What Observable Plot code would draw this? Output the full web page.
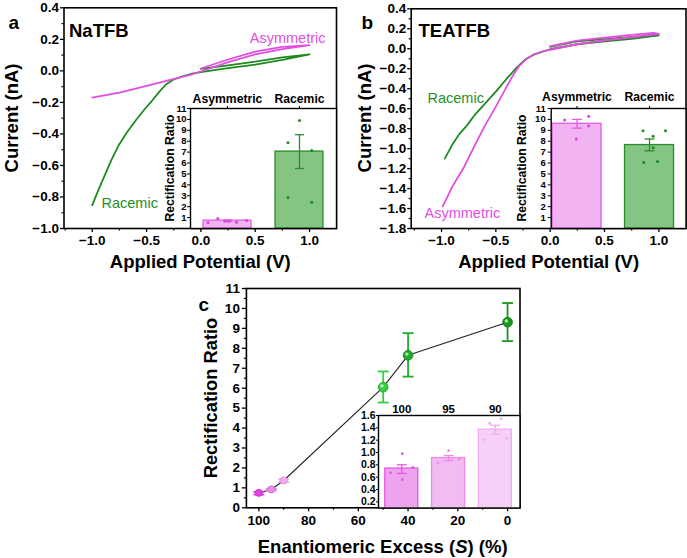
<!DOCTYPE html>
<html>
<head>
<meta charset="utf-8">
<script src="https://cdn.jsdelivr.net/npm/d3@7"></script>
<script src="https://cdn.jsdelivr.net/npm/@observablehq/plot@0.6"></script>
<style>
  body { margin: 0; background: #fff; }
  #fig { position: relative; width: 687px; height: 558px; overflow: hidden; background: #fff;
         font-family: "Liberation Sans", Arial, Helvetica, sans-serif; }
  #fig svg { position: absolute; }
  .htxt { position: absolute; font-weight: bold; white-space: nowrap; color: #000; line-height: 1; }
</style>
</head>
<body>
<div id="fig"></div>
<script>
// ---- Panel a: NaTFB I–V sweeps (V, nA) ----
const aRacV = [-1.0, -0.94, -0.88, -0.82, -0.755, -0.68, -0.60, -0.52, -0.45, -0.38, -0.32, -0.25, -0.17, -0.08, 0.0, 0.25, 0.5, 0.75, 1.0, 0.75, 0.5, 0.25, 0.0];
const aRacI = [-0.852, -0.75, -0.655, -0.56, -0.47, -0.39, -0.315, -0.245, -0.19, -0.13, -0.085, -0.055, -0.035, -0.018, -0.008, 0.018, 0.040, 0.070, 0.105, 0.085, 0.058, 0.035, 0.012];
const aAsymV = [-1.0, -0.75, -0.5, -0.3, -0.1, 0.0, 0.25, 0.5, 0.75, 1.0, 0.75, 0.5, 0.25, 0.0];
const aAsymI = [-0.170, -0.138, -0.095, -0.060, -0.025, -0.004, 0.055, 0.105, 0.138, 0.163, 0.152, 0.122, 0.072, 0.015];

// ---- Panel b: TEATFB I–V sweeps (V, nA) ----
const bRacV = [-0.97, -0.90, -0.84, -0.76, -0.70, -0.60, -0.50, -0.40, -0.30, -0.22, -0.15, -0.07, 0.0, 0.25, 0.5, 0.75, 1.0, 0.75, 0.5, 0.25, 0.0];
const bRacI = [-1.10, -0.96, -0.86, -0.76, -0.67, -0.55, -0.43, -0.30, -0.18, -0.10, -0.06, -0.03, -0.005, 0.045, 0.075, 0.100, 0.135, 0.118, 0.097, 0.075, 0.020];
const bAsymV = [-0.99, -0.90, -0.80, -0.70, -0.60, -0.50, -0.40, -0.35, -0.29, -0.22, -0.15, -0.08, 0.0, 0.25, 0.5, 0.75, 1.0, 0.95, 0.75, 0.5, 0.25, 0.0];
const bAsymI = [-1.58, -1.38, -1.20, -0.98, -0.77, -0.58, -0.38, -0.28, -0.18, -0.105, -0.055, -0.03, -0.01, 0.045, 0.085, 0.115, 0.148, 0.158, 0.138, 0.112, 0.082, 0.025];

// ---- Rectification ratio insets (a, b) ----
const groupNames = ["Asymmetric", "Racemic"];
const aRRMean = [0.72, 7.05];
const aRRLo = [0.67, 5.5];
const aRRHi = [0.77, 8.6];
const aPtGroup = [0, 0, 0, 0, 0, 0, 1, 1, 1, 1, 1];
const aPtOffset = [-0.27, -0.135, -0.03, 0.02, 0.125, 0.265, -0.16, 0.0, 0.17, -0.16, 0.17];
const aPtValue = [0.55, 0.91, 0.67, 0.67, 0.58, 0.73, 7.85, 9.9, 7.15, 2.85, 2.4];

const bRRMean = [9.6, 7.65];
const bRRLo = [9.2, 7.12];
const bRRHi = [10.0, 8.2];
const bPtGroup = [0, 0, 0, 0, 1, 1, 1, 1, 1, 1];
const bPtOffset = [-0.17, 0.16, 0.16, -0.01, -0.09, 0.22, 0.05, 0.05, -0.08, 0.11];
const bPtValue = [9.95, 10.3, 9.4, 8.2, 8.95, 8.95, 8.45, 7.4, 6.05, 6.15];

// ---- Panel c: rectification ratio vs enantiomeric excess ----
const cEE = [100, 95, 90, 50, 40, 0];
const cRR = [0.75, 0.92, 1.37, 6.05, 7.65, 9.31];
const cLo = [0.66, 0.87, 1.30, 5.28, 6.58, 8.36];
const cHi = [0.80, 0.95, 1.44, 6.84, 8.76, 10.27];

// inset c: high-ee bars
const eeNames = ["100", "95", "90"];
const cInMean = [0.74, 0.91, 1.37];
const cInLo = [0.66, 0.87, 1.30];
const cInHi = [0.80, 0.95, 1.44];
const cPtGroup = [0, 0, 0, 0, 1, 1, 1, 2, 2, 2, 2];
const cPtOffset = [-0.24, 0.01, 0.01, 0.235, -0.23, 0.0, 0.23, -0.23, -0.12, 0.126, 0.24];
const cPtValue = [0.67, 0.98, 0.56, 0.76, 0.83, 1.03, 0.89, 1.21, 1.47, 1.55, 1.23];

// ---- tick lists ----
const aYTicks = [-1.0, -0.8, -0.6, -0.4, -0.2, 0.0, 0.2, 0.4];
const aYMinor = [-0.9, -0.7, -0.5, -0.3, -0.1, 0.1, 0.3];
const bYTicks = [-1.8, -1.6, -1.4, -1.2, -1.0, -0.8, -0.6, -0.4, -0.2, 0.0, 0.2, 0.4];
const bYMinor = [-1.7, -1.5, -1.3, -1.1, -0.9, -0.7, -0.5, -0.3, -0.1, 0.1, 0.3];
const vTicks = [-1.0, -0.5, 0.0, 0.5, 1.0];
const vMinor = [-1.25, -0.75, -0.25, 0.25, 0.75];
const rrTicks = [1, 2, 3, 4, 5, 6, 7, 8, 9, 10, 11];
const cYTicks = [0, 1, 2, 3, 4, 5, 6, 7, 8, 9, 10, 11];
const cYMinor = [0.5, 1.5, 2.5, 3.5, 4.5, 5.5, 6.5, 7.5, 8.5, 9.5, 10.5];
const cXTicks = [100, 80, 60, 40, 20, 0];
const cXMinor = [90, 70, 50, 30, 10];
const cInYTicks = [0.2, 0.4, 0.6, 0.8, 1.0, 1.2, 1.4, 1.6];

// ---- colours ----
const magenta = "#e14ee1";
const green = "#1e8b1e";
const pinkFill = "#f1b3f1", pinkStroke = "#e35ce3", pinkDot = "#e03fe0";
const greenFill = "#84c584", greenStroke = "#2a8c2a", greenDot = "#1b8a1b";
const cMarker = ["#e040e0", "#e888e8", "#f0acf0", "#33d043", "#20ae28", "#18991e"];
const cMarkerEdge = ["#c030c0", "#d070d0", "#e090e0", "#1fa82c", "#158a1c", "#0f7a14"];
const cInFill = ["#eea3ee", "#f2bbf2", "#f6d0f6"];
const cInStroke = ["#e457e4", "#ec8aec", "#f0acf0"];

const font = '"Liberation Sans", Arial, Helvetica, sans-serif';
const styleBase = () => ({ background: "transparent", overflow: "visible", fontFamily: font, fontWeight: "bold", color: "black" });

const zip = (keys, ...cols) => cols[0].map((_, j) => Object.fromEntries(keys.map((k, n) => [k, cols[n][j]])));
// horizontal cap for error bars
const capSymbol = { draw(ctx, size) { const r = Math.sqrt(size / Math.PI); ctx.moveTo(-r, 0); ctx.lineTo(r, 0); } };

const fig = document.getElementById("fig");
function place(node, left, top) {
  node.style.position = "absolute";
  node.style.left = left + "px";
  node.style.top = top + "px";
  node.style.maxWidth = "none";
  fig.append(node);
}
// text centred on (cx, cy), optionally turned to read bottom-to-top
function label(html, cx, cy, size, vertical = false) {
  const el = document.createElement("div");
  el.className = "htxt";
  el.style.left = cx + "px";
  el.style.top = cy + "px";
  el.style.fontSize = size + "px";
  el.style.transform = vertical ? "translate(-50%, -50%) rotate(-90deg)" : "translate(-50%, -50%)";
  el.innerHTML = html;
  fig.append(el);
}

// ---------- panel a ----------
const aRac = zip(["v", "i"], aRacV, aRacI);
const aAsym = zip(["v", "i"], aAsymV, aAsymI);
place(Plot.plot({
  width: 340, height: 290,
  marginLeft: 63.5, marginRight: 4, marginTop: 7.3, marginBottom: 62,
  x: { domain: [-1.26, 1.248], label: null },
  y: { domain: [-1.0, 0.4], label: null },
  style: styleBase(),
  marks: [
    Plot.axisY({ ticks: aYTicks, tickFormat: ".1f", tickSize: 3.5, tickPadding: 1.5, fontSize: 13.5, fontWeight: "bold", label: null, strokeWidth: 1.3 }),
    Plot.axisY({ ticks: aYMinor, tickSize: 2, fill: "none", label: null, strokeWidth: 1.2 }),
    Plot.axisX({ ticks: vTicks, tickFormat: ".1f", tickSize: 4, tickPadding: 3, fontSize: 13.5, fontWeight: "bold", label: null, strokeWidth: 1.3 }),
    Plot.axisX({ ticks: vMinor, tickSize: 2.5, fill: "none", label: null, strokeWidth: 1.2 }),
    Plot.line(aRac, { x: "v", y: "i", stroke: green, strokeWidth: 1.8 }),
    Plot.line(aAsym, { x: "v", y: "i", stroke: magenta, strokeWidth: 1.8 }),
    Plot.frame({ stroke: "black", strokeWidth: 1.6 }),
    Plot.text(["NaTFB"], { frameAnchor: "top-left", dx: 5, dy: 16, textAnchor: "start", fontSize: 18.5, fontWeight: "bold" }),
    Plot.text(["Asymmetric"], { frameAnchor: "top-right", dx: -11, dy: 25, textAnchor: "end", fontSize: 14.5, fontWeight: "normal", fill: magenta }),
    Plot.text(["Racemic"], { frameAnchor: "bottom-left", dx: 37.5, dy: -21, textAnchor: "start", fontSize: 14.5, fontWeight: "normal", fill: "#24901f" }),
    Plot.text(["Applied Potential (V)"], { frameAnchor: "bottom", dy: 39, fontSize: 18.5, fontWeight: "bold" }),
    Plot.text(["a"], { frameAnchor: "top-left", dx: -55.5, dy: 8, fontSize: 19, fontWeight: "bold" })
  ]
}), 0, 0);
label("Current (nA)", 12, 117.6, 18.5, true);

// inset bar chart shared by panels a and b
function rrInset({ mean, lo, hi, ptGroup, ptOffset, ptValue, width, marginLeft, marginRight, xDomain, halfWidth, tickFontSize, tickPadding, topPadding, capR }) {
  const bars = zip(["k", "mean", "lo", "hi"], [0, 1], mean, lo, hi);
  const pts = zip(["k", "off", "value"], ptGroup, ptOffset, ptValue);
  const fills = [pinkFill, greenFill], strokes = [pinkStroke, greenStroke], dots = [pinkDot, greenDot];
  return Plot.plot({
    width, height: 150,
    marginLeft, marginRight, marginTop: 28, marginBottom: 2,
    x: { domain: xDomain, label: null },
    y: { domain: [0, 11], label: null },
    color: { type: "identity" },
    style: styleBase(),
    marks: [
      Plot.frame({ fill: "white", stroke: "none" }),
      Plot.rectY(bars, { x1: d => d.k - halfWidth, x2: d => d.k + halfWidth, y: "mean", fill: d => fills[d.k], stroke: d => strokes[d.k], strokeWidth: 1.3 }),
      Plot.ruleX(bars, { x: "k", y1: "lo", y2: "hi", stroke: d => strokes[d.k], strokeWidth: 1.3 }),
      Plot.dot(bars, { x: "k", y: "lo", symbol: capSymbol, r: capR, fill: "none", stroke: d => strokes[d.k], strokeWidth: 1.3 }),
      Plot.dot(bars, { x: "k", y: "hi", symbol: capSymbol, r: capR, fill: "none", stroke: d => strokes[d.k], strokeWidth: 1.3 }),
      Plot.dot(pts, { x: d => d.k + d.off, y: "value", r: 1.5, fill: d => dots[d.k], stroke: "none" }),
      Plot.axisY({ ticks: rrTicks, tickFormat: "d", tickSize: 3, tickPadding, fontSize: tickFontSize, fontWeight: "bold", label: null }),
      Plot.axisX({ anchor: "top", ticks: [0, 1], tickFormat: k => groupNames[k], tickSize: 3, tickPadding: topPadding, fontSize: 12.2, fontWeight: "bold", label: null }),
      Plot.frame({ stroke: "black", strokeWidth: 1.4 })
    ]
  });
}

place(rrInset({
  mean: aRRMean, lo: aRRLo, hi: aRRHi, ptGroup: aPtGroup, ptOffset: aPtOffset, ptValue: aPtValue,
  width: 190, marginLeft: 40, marginRight: 4, xDomain: [-0.514, 1.514], halfWidth: 0.333,
  tickFontSize: 9.5, tickPadding: 1, topPadding: 3, capR: 4.5
}), 150, 80);
label("Rectification Ratio", 170, 168, 12.2, true);

// ---------- panel b ----------
const bRac = zip(["v", "i"], bRacV, bRacI);
const bAsym = zip(["v", "i"], bAsymV, bAsymI);
place(Plot.plot({
  width: 347, height: 290,
  marginLeft: 70.7, marginRight: 1.5, marginTop: 8.3, marginBottom: 62,
  x: { domain: [-1.279, 1.25], label: null },
  y: { domain: [-1.8, 0.4], label: null },
  style: styleBase(),
  marks: [
    Plot.axisY({ ticks: bYTicks, tickFormat: ".1f", tickSize: 3.5, tickPadding: 1.5, fontSize: 13.5, fontWeight: "bold", label: null, strokeWidth: 1.3 }),
    Plot.axisY({ ticks: bYMinor, tickSize: 2, fill: "none", label: null, strokeWidth: 1.2 }),
    Plot.axisX({ ticks: vTicks, tickFormat: ".1f", tickSize: 4, tickPadding: 3, fontSize: 13.5, fontWeight: "bold", label: null, strokeWidth: 1.3 }),
    Plot.axisX({ ticks: vMinor, tickSize: 2.5, fill: "none", label: null, strokeWidth: 1.2 }),
    Plot.line(bRac, { x: "v", y: "i", stroke: green, strokeWidth: 1.8 }),
    Plot.line(bAsym, { x: "v", y: "i", stroke: magenta, strokeWidth: 1.8 }),
    Plot.frame({ stroke: "black", strokeWidth: 1.6 }),
    Plot.text(["TEATFB"], { frameAnchor: "top-left", dx: 7.3, dy: 15, textAnchor: "start", fontSize: 18.5, fontWeight: "bold" }),
    Plot.text(["Racemic"], { frameAnchor: "top-left", dx: 16.3, dy: 84.4, textAnchor: "start", fontSize: 14.5, fontWeight: "normal", fill: "#24901f" }),
    Plot.text(["Asymmetric"], { frameAnchor: "bottom-left", dx: 13.3, dy: -11, textAnchor: "start", fontSize: 14.5, fontWeight: "normal", fill: magenta }),
    Plot.text(["Applied Potential (V)"], { frameAnchor: "bottom", dy: 39, fontSize: 18.5, fontWeight: "bold" }),
    Plot.text(["b"], { frameAnchor: "top-left", dx: -49.7, dy: 6.7, fontSize: 19, fontWeight: "bold" })
  ]
}), 340, 0);
label("Current (nA)", 365, 118, 18.5, true);

place(rrInset({
  mean: bRRMean, lo: bRRLo, hi: bRRHi, ptGroup: bPtGroup, ptOffset: bPtOffset, ptValue: bPtValue,
  width: 187, marginLeft: 50.7, marginRight: 1.5, xDomain: [-0.356, 1.503], halfWidth: 0.338,
  tickFontSize: 9.5, tickPadding: 2.5, topPadding: 5, capR: 5
}), 500, 80);
label("Rectification Ratio", 521.5, 168, 12.2, true);

// ---------- panel c ----------
const cData = zip(["ee", "rr", "lo", "hi", "k"], cEE, cRR, cLo, cHi, [0, 1, 2, 3, 4, 5]);
place(Plot.plot({
  width: 345, height: 283,
  marginLeft: 65.9, marginRight: 5.5, marginTop: 13, marginBottom: 50.7,
  x: { domain: [105, -5], label: null },
  y: { domain: [0, 11], label: null },
  color: { type: "identity" },
  style: styleBase(),
  marks: [
    Plot.axisY({ ticks: cYTicks, tickFormat: "d", tickSize: 4, tickPadding: 2.5, fontSize: 13.5, fontWeight: "bold", label: null, strokeWidth: 1.3 }),
    Plot.axisY({ ticks: cYMinor, tickSize: 2, fill: "none", label: null, strokeWidth: 1.2 }),
    Plot.axisX({ ticks: cXTicks, tickFormat: "d", tickSize: 4, tickPadding: 4, fontSize: 13.5, fontWeight: "bold", label: null, strokeWidth: 1.3 }),
    Plot.axisX({ ticks: cXMinor, tickSize: 2.5, fill: "none", label: null, strokeWidth: 1.2 }),
    Plot.line(cData, { x: "ee", y: "rr", stroke: "#222", strokeWidth: 1.1 }),
    Plot.ruleX(cData, { x: "ee", y1: "lo", y2: "hi", stroke: d => cMarker[d.k], strokeWidth: 1.8 }),
    Plot.dot(cData, { x: "ee", y: "lo", symbol: capSymbol, r: 5.5, fill: "none", stroke: d => cMarker[d.k], strokeWidth: 1.8 }),
    Plot.dot(cData, { x: "ee", y: "hi", symbol: capSymbol, r: 5.5, fill: "none", stroke: d => cMarker[d.k], strokeWidth: 1.8 }),
    Plot.dot(cData, { filter: d => d.k < 3, x: "ee", y: "rr", r: 3.6, fill: d => cMarker[d.k], stroke: d => cMarkerEdge[d.k], strokeWidth: 0.8 }),
    Plot.dot(cData, { filter: d => d.k >= 3, x: "ee", y: "rr", r: 4.8, fill: d => cMarker[d.k], stroke: d => cMarkerEdge[d.k], strokeWidth: 1 }),
    Plot.dot(cData, { filter: d => d.k >= 3, x: "ee", y: "rr", r: 1.7, dx: -1.2, dy: -1.2, fill: "white", fillOpacity: 0.7, stroke: "none" }),
    Plot.frame({ stroke: "black", strokeWidth: 1.6 }),
    Plot.text(["c"], { frameAnchor: "top-left", dx: -47.9, dy: 9, fontSize: 19, fontWeight: "bold" })
  ]
}), 180, 275);
label("Rectification Ratio", 211, 397.6, 18.3, true);
label("Enantiomeric Excess (<i>S</i>) (%)", 382.7, 547, 18.5);

// inset c: bars for 100, 95 and 90 % ee
const cBars = zip(["k", "mean", "lo", "hi"], [0, 1, 2], cInMean, cInLo, cInHi);
const cPts = zip(["k", "off", "value"], cPtGroup, cPtOffset, cPtValue);
place(Plot.plot({
  width: 195, height: 120,
  marginLeft: 48, marginRight: 5.5, marginTop: 25, marginBottom: 2.5,
  x: { domain: [-0.498, 2.528], label: null },
  y: { domain: [0.1, 1.6], label: null },
  color: { type: "identity" },
  style: styleBase(),
  marks: [
    Plot.frame({ fill: "white", stroke: "none" }),
    Plot.rectY(cBars, { x1: d => d.k - 0.353, x2: d => d.k + 0.353, y: "mean", fill: d => cInFill[d.k], stroke: d => cInStroke[d.k], strokeWidth: 1.3, clip: true }),
    Plot.ruleX(cBars, { x: "k", y1: "lo", y2: "hi", stroke: d => cInStroke[d.k], strokeWidth: 1.3 }),
    Plot.dot(cBars, { x: "k", y: "lo", symbol: capSymbol, r: 5, fill: "none", stroke: d => cInStroke[d.k], strokeWidth: 1.3 }),
    Plot.dot(cBars, { x: "k", y: "hi", symbol: capSymbol, r: 5, fill: "none", stroke: d => cInStroke[d.k], strokeWidth: 1.3 }),
    Plot.dot(cPts, { x: d => d.k + d.off, y: "value", r: 1.4, fill: d => cInStroke[d.k], stroke: "none" }),
    Plot.axisY({ ticks: cInYTicks, tickFormat: ".1f", tickSize: 2, tickPadding: 1, fontSize: 10.5, fontWeight: "bold", label: null }),
    Plot.axisX({ anchor: "top", ticks: [0, 1, 2], tickFormat: k => eeNames[k], tickSize: 0, tickPadding: 3, fontSize: 11.5, fontWeight: "bold", label: null }),
    Plot.frame({ stroke: "black", strokeWidth: 1.4 })
  ]
}), 330, 390);
</script>
</body>
</html>
